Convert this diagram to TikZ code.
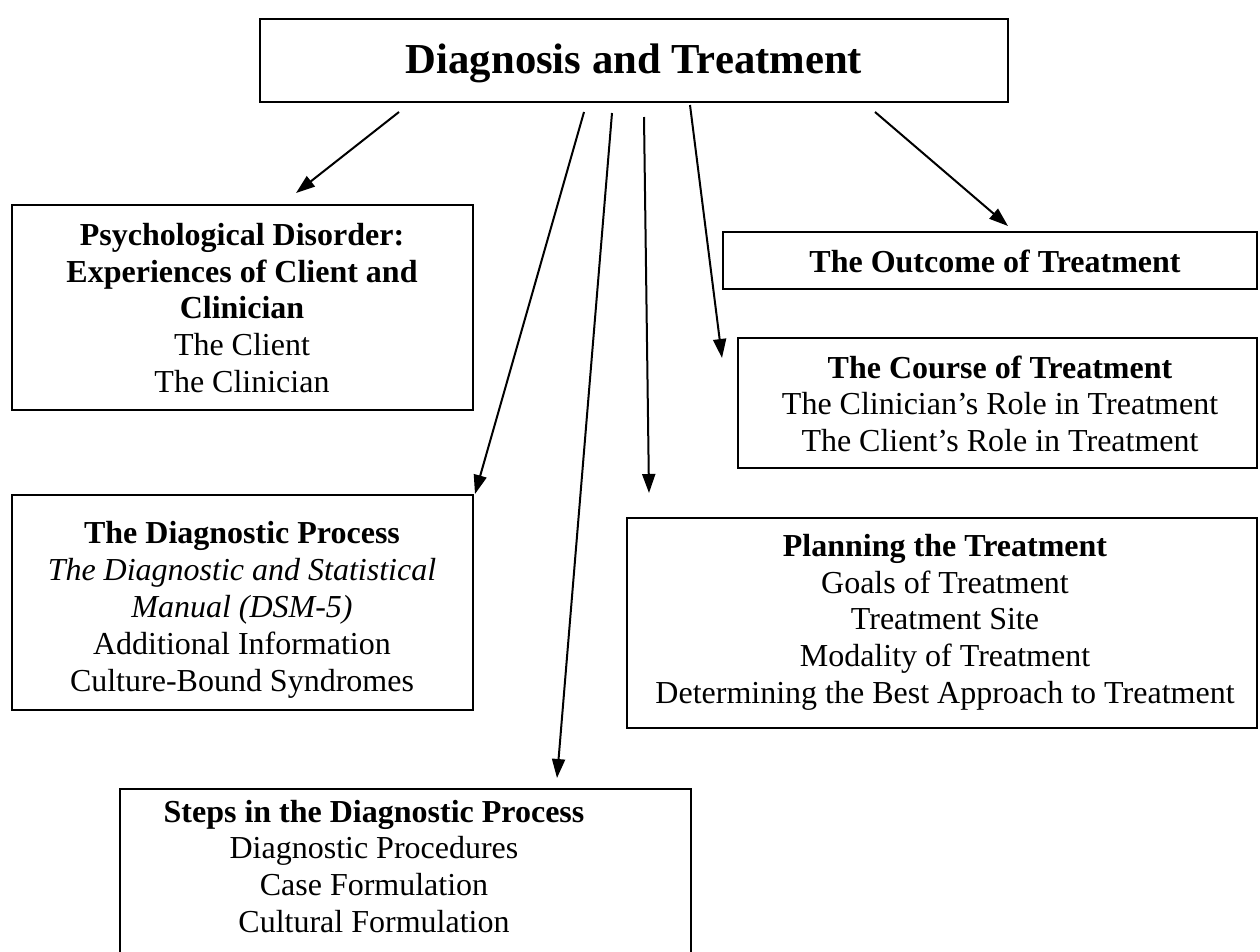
\documentclass[tikz,border=0pt]{standalone}
\usepackage{fontspec}
\setmainfont{Liberation Serif}
\usetikzlibrary{arrows.meta}
\begin{document}
\begin{tikzpicture}[x=1pt,y=-1pt,
  frame/.style={draw=black, line width=2pt, inner sep=0pt, outer sep=0pt},
  txt/.style={align=center, inner sep=0pt, font=\fontsize{32}{36.8}\selectfont},
  oneline/.style={inner sep=0pt, anchor=base, font=\fontsize{32}{36.8}\selectfont\bfseries},
  conn/.style={line width=2pt, -{Triangle[length=19pt,width=13pt]}}]
\useasboundingbox (0,0) rectangle (1260,951);
\clip (0,0) rectangle (1260,951);

% title
\node[frame, minimum width=748, minimum height=83] (titlebox) at (634,60) {};
\node[inner sep=0pt, anchor=base, font=\fontsize{42.7}{49}\selectfont\bfseries] (title) at (634,73) {Diagnosis and Treatment};

% psychological disorder
\node[frame, minimum width=461, minimum height=205] (psychbox) at (242.5,307.5) {};
\node[txt] (psych) at (242,311.6) {\strut\textbf{Psychological Disorder:}\\\textbf{Experiences of Client and}\\\textbf{Clinician}\\The Client\\The Clinician\strut};

% outcome
\node[frame, minimum width=534, minimum height=57] (outbox) at (990,260.5) {};
\node[oneline] (outcome) at (995,272) {The Outcome of Treatment};

% course
\node[frame, minimum width=519, minimum height=130] (coursebox) at (997.5,403) {};
\node[txt] (course) at (1000,407.6) {\strut\textbf{The Course of Treatment}\\The Clinician’s Role in Treatment\\The Client’s Role in Treatment\strut};

% diagnostic process
\node[frame, minimum width=461, minimum height=215] (diagbox) at (242.5,602.5) {};
\node[txt] (diag) at (242,610.1) {\strut\textbf{The Diagnostic Process}\\\textit{The Diagnostic and Statistical}\\\textit{Manual (DSM-5)}\\Additional Information\\Culture-Bound Syndromes\strut};

% planning
\node[frame, minimum width=630, minimum height=210] (planbox) at (942,623) {};
\node[txt] (plan) at (945,622.6) {\strut\textbf{Planning the Treatment}\\Goals of Treatment\\Treatment Site\\Modality of Treatment\\Determining the Best Approach to Treatment\strut};

% steps
\node[frame, minimum width=571, minimum height=191] (stepsbox) at (405.5,884.5) {};
\node[txt] (steps) at (374,870) {\strut\textbf{Steps in the Diagnostic Process}\\Diagnostic Procedures\\Case Formulation\\Cultural Formulation\strut};

% connector ends
\coordinate (s1) at (399,112);  \coordinate (e1) at (296,193);
\coordinate (s2) at (584,112);  \coordinate (e2) at (475,494);
\coordinate (s3) at (612,113);  \coordinate (e3) at (557,778);
\coordinate (s4) at (644,117);  \coordinate (e4) at (649,493);
\coordinate (s5) at (690,105);  \coordinate (e5) at (722,358);
\coordinate (s6) at (875,112);  \coordinate (e6) at (1008,226);

\draw[conn] (s1) -- (e1);
\draw[conn] (s2) -- (e2);
\draw[conn] (s3) -- (e3);
\draw[conn] (s4) -- (e4);
\draw[conn] (s5) -- (e5);
\draw[conn] (s6) -- (e6);
\end{tikzpicture}
\end{document}
